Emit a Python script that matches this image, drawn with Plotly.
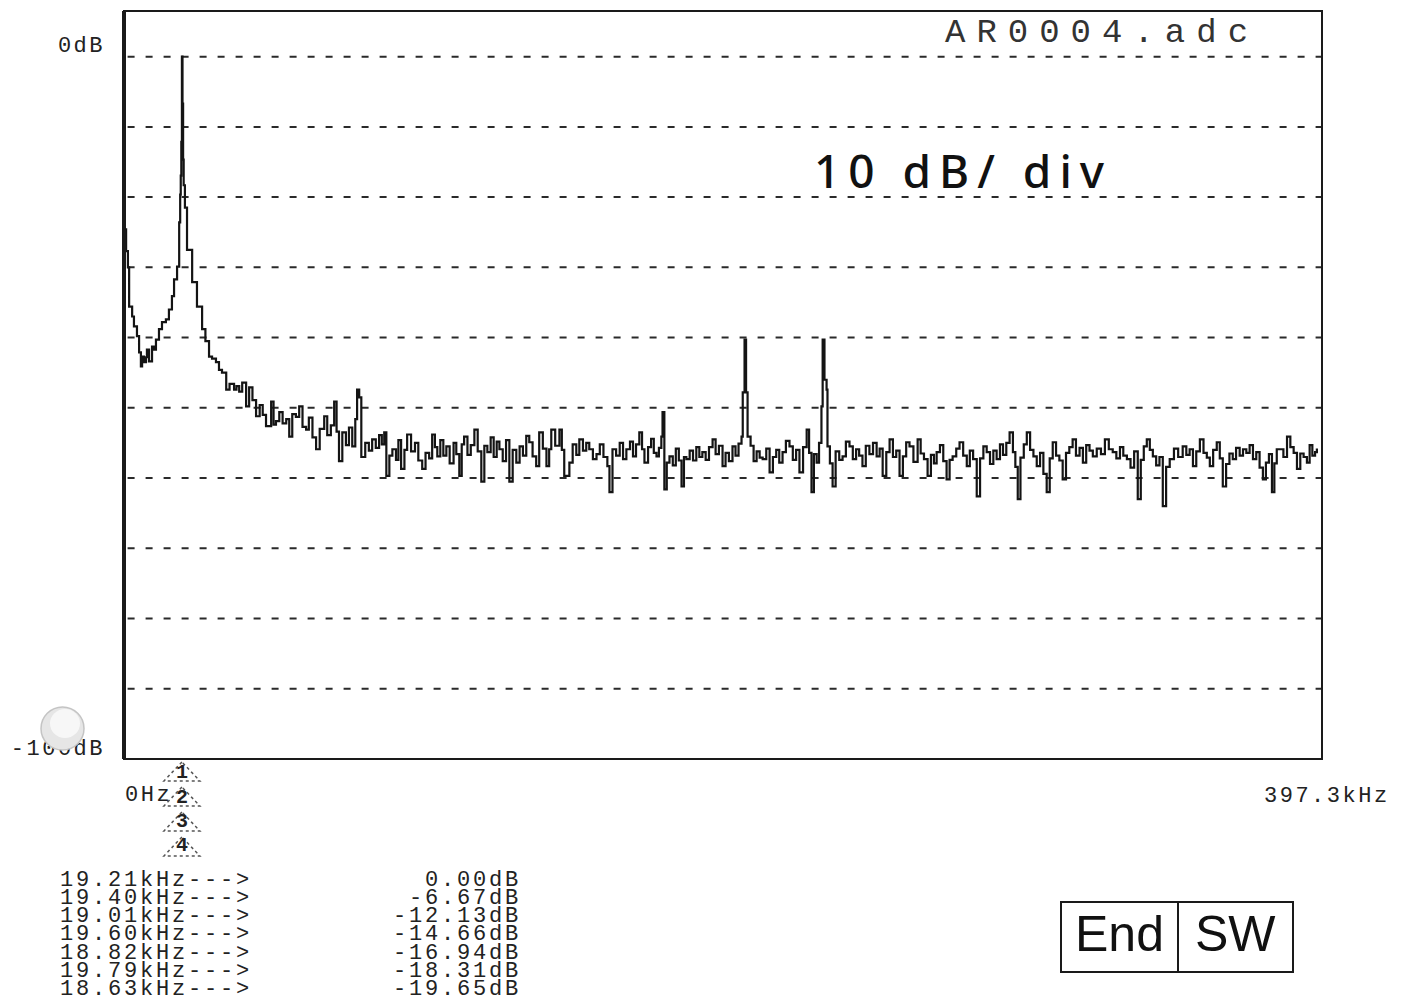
import plotly.graph_objects as go

# ---------------- data ----------------
freq_khz = [
    0.0, 0.3, 0.7, 1.3, 1.7, 2.7, 3.3, 4.3, 5.0, 5.6, 6.0, 6.6, 7.3, 7.6, 8.3, 9.3, 10.0, 10.6, 11.6, 12.6,
    13.9, 14.9, 15.9, 16.6, 17.6, 18.3, 18.63, 18.82, 19.01, 19.21, 19.40, 19.60, 19.79, 20.2, 20.9, 22.6,
    24.2, 25.9, 27.0, 28.2, 29.2, 30.5, 31.5, 32.5, 33.9, 35.0, 36.5, 37.3, 38.2, 39.2, 40.5, 41.5, 42.6,
    43.8, 45.0, 46.0, 47.1, 48.8, 49.6, 50.4, 51.5, 52.6, 53.8, 54.8, 55.8, 57.0, 58.1, 59.2, 60.4, 61.3,
    62.5, 63.7, 64.9, 66.4, 67.4, 68.6, 69.7, 70.5, 71.3, 72.4, 73.6, 74.6, 75.7, 76.7, 77.3, 78.0, 78.7,
    80.0, 81.2, 82.3, 83.5, 84.6, 85.5, 86.3, 87.0, 88.0, 89.0, 90.2, 91.0, 91.9, 93.0, 93.9, 95.2, 96.5,
    97.6, 98.9, 100.0, 101.2, 102.2, 103.1, 103.9, 104.9, 105.9, 106.9, 108.0, 109.3, 110.2, 111.2, 112.0,
    112.8, 113.9, 115.0, 116.2, 117.3, 118.5, 119.5, 120.5, 121.6, 122.6, 123.6, 124.5, 125.6, 126.7,
    127.8, 128.9, 130.1, 131.2, 132.3, 133.4, 134.4, 135.5, 136.7, 137.7, 138.9, 140.1, 141.0, 141.7,
    143.0, 144.4, 145.2, 146.0, 147.7, 148.8, 150.0, 151.0, 152.2, 153.3, 154.3, 155.5, 156.7, 157.8,
    159.0, 160.3, 161.0, 162.0, 163.2, 164.4, 165.5, 166.6, 167.8, 168.8, 169.8, 170.9, 171.8, 172.6,
    173.8, 174.8, 175.7, 176.6, 177.4, 178.2, 178.6, 179.2, 180.0, 180.9, 182.0, 183.0, 184.0, 184.9,
    185.7, 186.5, 187.6, 188.7, 189.8, 190.8, 191.8, 192.9, 194.0, 195.2, 196.2, 197.3, 198.5, 199.5,
    200.6, 201.8, 202.8, 203.8, 204.8, 205.2, 205.8, 206.3, 206.8, 207.8, 208.8, 209.8, 210.8, 211.8,
    213.0, 214.1, 215.2, 216.3, 217.3, 218.4, 219.5, 220.7, 221.8, 222.9, 224.0, 225.2, 226.4, 227.2,
    228.0, 228.8, 229.7, 230.5, 231.3, 231.7, 232.3, 233.0, 233.3, 234.1, 235.0, 236.0, 237.2, 238.3,
    239.4, 240.6, 241.7, 242.8, 243.8, 244.9, 246.0, 247.2, 248.4, 249.6, 250.6, 251.6, 252.8, 253.9,
    255.0, 256.1, 257.2, 258.3, 259.4, 260.5, 261.8, 263.2, 264.2, 265.3, 266.5, 267.6, 268.6, 269.5,
    270.6, 271.7, 272.8, 273.8, 274.8, 276.0, 277.1, 278.3, 279.5, 280.5, 281.6, 282.8, 283.9, 285.0,
    286.1, 287.2, 288.3, 289.4, 290.5, 291.5, 292.6, 293.7, 294.8, 295.6, 296.4, 297.3, 298.4, 299.4,
    300.5, 301.6, 302.7, 303.8, 304.9, 306.0, 307.0, 308.0, 309.1, 310.2, 311.3, 312.4, 313.5, 314.6,
    315.7, 316.9, 318.0, 319.1, 320.2, 321.3, 322.6, 324.0, 325.3, 326.6, 327.9, 329.1, 330.3, 331.4,
    332.6, 333.8, 335.0, 336.2, 337.2, 338.2, 339.2, 340.2, 341.2, 342.3, 343.4, 344.5, 345.6, 346.8,
    348.2, 349.6, 351.1, 352.3, 353.4, 354.5, 355.6, 356.8, 358.0, 359.1, 360.1, 361.2, 362.4, 363.4,
    364.4, 365.5, 366.6, 367.7, 368.8, 370.0, 371.1, 372.2, 373.3, 374.4, 375.5, 376.6, 377.7, 378.7,
    379.7, 380.7, 381.5, 382.3, 383.3, 384.5, 385.7, 386.8, 387.9, 389.0, 390.1, 391.2, 392.3, 393.2,
    394.1, 395.0, 395.6,
]
level_db = [
    -20.0, -24.6, -27.7, -30.0, -35.6, -37.0, -38.4, -39.8, -42.1, -44.1, -42.7, -43.5, -42.8, -41.7, -43.4, -41.3, -41.7, -40.3, -38.8, -37.8,
    -37.4, -36.0, -34.1, -31.7, -29.9, -23.6, -19.65, -16.94, -12.13, 0.0, -6.67, -14.66, -18.31, -21.5, -27.5, -32.1,
    -35.6, -38.8, -40.5, -42.7, -43.0, -43.5, -44.6, -45.0, -47.4, -46.6, -47.4, -46.9, -47.7, -46.4, -49.8, -47.1, -48.9,
    -51.2, -49.6, -51.0, -52.6, -49.1, -52.4, -51.9, -50.6, -52.2, -51.6, -54.1, -50.9, -51.3, -49.8, -52.7, -53.1, -51.4,
    -54.2, -55.9, -53.0, -51.2, -53.9, -52.5, -49.1, -53.4, -57.6, -53.5, -55.3, -52.8, -55.5, -51.6, -47.4, -48.5, -57.0,
    -55.0, -56.1, -54.5, -55.7, -53.9, -55.2, -53.5, -59.7, -56.8, -55.9, -57.4, -54.6, -58.7, -56.0, -53.8, -56.2, -55.0,
    -57.5, -58.7, -56.4, -57.2, -53.8, -55.6, -56.9, -54.6, -56.8, -55.5, -57.9, -55.0, -56.6, -59.7, -55.2,
    -54.1, -56.7, -55.3, -53.1, -56.2, -60.5, -55.4, -56.3, -54.2, -57.0, -54.8, -55.9, -57.6, -54.6,
    -60.5, -56.0, -57.8, -55.5, -56.8, -54.0, -54.9, -56.9, -58.3, -53.5, -55.8, -58.3, -55.9, -53.1,
    -55.4, -53.1, -56.0, -59.7, -57.8, -55.2, -56.7, -54.5, -56.1, -55.0, -55.9, -57.3, -56.6, -55.2,
    -57.0, -58.3, -62.0, -55.9, -56.8, -55.0, -57.3, -55.9, -54.8, -56.9, -55.2, -53.5, -55.9, -57.8,
    -55.6, -54.4, -56.4, -56.9, -55.7, -54.1, -50.6, -61.6, -57.8, -56.9, -58.2, -55.8, -57.5, -61.2,
    -57.0, -57.3, -56.1, -57.5, -55.6, -57.0, -56.3, -57.4, -55.6, -54.5, -56.6, -55.4, -58.3, -56.4,
    -57.6, -55.5, -56.8, -55.1, -54.1, -47.8, -40.3, -47.8, -54.1, -55.4, -57.6, -56.2, -57.1, -57.3,
    -55.8, -59.2, -57.0, -56.0, -57.8, -56.3, -54.7, -55.5, -57.4, -56.0, -59.2, -55.6, -53.1, -56.4,
    -62.0, -56.6, -57.8, -55.0, -49.8, -40.3, -46.0, -47.4, -55.5, -57.9, -61.2, -56.2, -57.4, -56.9,
    -54.8, -55.5, -57.3, -55.9, -56.8, -58.3, -55.4, -56.6, -55.0, -56.9, -55.8, -59.7, -56.3, -54.5,
    -57.0, -56.1, -59.7, -56.9, -54.9, -55.5, -57.7, -54.5, -56.5, -57.3, -59.7, -56.7, -57.9, -56.3,
    -55.3, -57.6, -60.2, -57.4, -56.9, -55.8, -54.9, -56.8, -58.3, -56.1, -57.3, -62.6, -57.2, -55.5,
    -56.3, -58.0, -56.1, -57.3, -55.2, -56.7, -55.0, -53.5, -56.3, -58.4, -63.0, -57.1, -55.2, -53.5,
    -56.0, -56.9, -58.3, -56.4, -59.4, -62.0, -57.2, -54.9, -56.8, -57.5, -60.2, -56.4, -55.6, -54.5,
    -56.8, -55.7, -57.8, -55.3, -56.1, -56.9, -55.8, -56.6, -54.5, -55.9, -56.3, -57.2, -55.6, -56.8,
    -57.3, -58.5, -56.2, -63.0, -57.4, -55.5, -54.5, -56.0, -56.9, -58.2, -57.0, -64.0, -58.4, -57.3,
    -55.8, -57.0, -55.5, -56.7, -55.9, -58.3, -56.2, -54.5, -56.4, -57.1, -58.3, -56.0, -54.9, -57.2,
    -61.2, -58.0, -56.5, -57.3, -55.7, -56.8, -55.9, -56.4, -55.3, -57.3, -56.3, -58.5, -60.2, -57.8,
    -56.6, -62.0, -57.9, -55.9, -55.9, -57.0, -54.1, -55.6, -56.4, -58.7, -56.5, -57.0, -57.8, -55.3,
    -56.8, -56.3, -55.8,
]

x_range_khz = [0.0, 397.3]
y_range_db = [-100.0, 6.5]
grid_levels_db = [0, -10, -20, -30, -40, -50, -60, -70, -80, -90]
y_tick_labels = ["0dB", "-100dB"]
x_start_label = "0Hz"
x_end_label = "397.3kHz"
title_text = "AR0004.adc"
note_text = "10 dB/ div"
marker_freq_khz = 19.21
marker_ids = ["1", "2", "3", "4"]
marker_freq_labels = ["19.21kHz--->", "19.40kHz--->", "19.01kHz--->", "19.60kHz--->",
                      "18.82kHz--->", "19.79kHz--->", "18.63kHz--->"]
marker_level_labels = ["0.00dB", "-6.67dB", "-12.13dB", "-14.66dB", "-16.94dB", "-18.31dB", "-19.65dB"]
button_labels = ["End", "SW"]

# ---------------- layout geometry ----------------
W, H = 1403, 1008
L, R, T, B = 124, 81, 11, 249
PW, PH = W - L - R, H - T - B


def pxx(px):
    return (px - L) / PW


def pxy(py):
    return (T + PH - py) / PH


MONO = "Liberation Mono"


def spaced(text, sp):
    return f'<span style="letter-spacing:{sp}px">{text}</span>'


fig = go.Figure()
fig.add_trace(go.Scatter(
    x=freq_khz, y=level_db, mode="lines",
    line=dict(color="#141414", width=2.2, shape="hv"),
    hoverinfo="skip", showlegend=False,
))

shapes = []
# dashed grid
for lv in grid_levels_db:
    shapes.append(dict(type="line", xref="paper", yref="y", x0=0.003, x1=1.0, y0=lv, y1=lv,
                       line=dict(color="#2a2a2a", width=2, dash="7px,11px"), layer="below"))
# frame
shapes.append(dict(type="rect", xref="paper", yref="paper", x0=0, x1=1, y0=0, y1=1,
                   line=dict(color="#1a1a1a", width=2)))
shapes.append(dict(type="line", xref="paper", yref="paper", x0=0, x1=0, y0=0, y1=1,
                   line=dict(color="#1a1a1a", width=4)))
# hole-punch artefact over -100dB label
shapes.append(dict(type="circle", xref="paper", yref="paper",
                   x0=pxx(41), x1=pxx(84), y0=pxy(750), y1=pxy(707),
                   fillcolor="#e6e6e6", line=dict(color="#c4c4c4", width=1.5), layer="above"))
shapes.append(dict(type="circle", xref="paper", yref="paper",
                   x0=pxx(50), x1=pxx(80), y0=pxy(738), y1=pxy(709),
                   fillcolor="#f7f7f7", line=dict(width=0), layer="above"))
# marker triangles
apex = [762, 787, 812, 837]
hw = 18 * (x_range_khz[1] - x_range_khz[0]) / PW
for a in apex:
    path = (f"M {marker_freq_khz},{pxy(a)} L {marker_freq_khz - hw},{pxy(a + 19)} "
            f"L {marker_freq_khz + hw},{pxy(a + 19)} Z")
    shapes.append(dict(type="path", xref="x", yref="paper", path=path,
                       line=dict(color="#555555", width=1.5, dash="dot")))
# End | SW box
shapes.append(dict(type="rect", xref="paper", yref="paper", x0=pxx(1061), x1=pxx(1293),
                   y0=pxy(972), y1=pxy(902), line=dict(color="#1a1a1a", width=2)))
shapes.append(dict(type="line", xref="paper", yref="paper", x0=pxx(1178), x1=pxx(1178),
                   y0=pxy(972), y1=pxy(902), line=dict(color="#1a1a1a", width=2)))

ann = []
ann.append(dict(text=spaced(title_text, 11), xref="paper", yref="paper", x=pxx(1102), y=pxy(33),
                xanchor="center", yanchor="middle", showarrow=False,
                font=dict(family=MONO, size=34, color="#333333")))
ann.append(dict(text=spaced(note_text, 8), xref="paper", yref="paper", x=pxx(963), y=pxy(170),
                xanchor="center", yanchor="middle", showarrow=False,
                font=dict(family="Noto Sans", size=46, color="#111111", weight=500)))
ann.append(dict(text=spaced(x_start_label, 2.5), xref="paper", yref="paper", x=pxx(123), y=pxy(795),
                xanchor="left", yanchor="middle", showarrow=False,
                font=dict(family=MONO, size=22, color="#222222")))
ann.append(dict(text=spaced(x_end_label, 2.5), xref="paper", yref="paper", x=pxx(1262), y=pxy(796),
                xanchor="left", yanchor="middle", showarrow=False,
                font=dict(family=MONO, size=22, color="#222222")))
num_y = [772, 797, 821, 845]
for mid, ny in zip(marker_ids, num_y):
    ann.append(dict(text=mid, xref="x", yref="paper", x=marker_freq_khz, y=pxy(ny),
                    xanchor="center", yanchor="middle", showarrow=False,
                    font=dict(family=MONO, size=20, color="#222222", weight=700)))
for i, (fl, ll) in enumerate(zip(marker_freq_labels, marker_level_labels)):
    yy = 880 + i * 18.3
    ann.append(dict(text=spaced(fl, 2.8), xref="paper", yref="paper", x=pxx(58), y=pxy(yy),
                    xanchor="left", yanchor="middle", showarrow=False,
                    font=dict(family=MONO, size=22, color="#222222")))
    ann.append(dict(text=spaced(ll, 2.8), xref="paper", yref="paper", x=pxx(523), y=pxy(yy),
                    xanchor="right", yanchor="middle", showarrow=False,
                    font=dict(family=MONO, size=22, color="#222222")))
ann.append(dict(text=button_labels[0], xref="paper", yref="paper", x=pxx(1119), y=pxy(934),
                xanchor="center", yanchor="middle", showarrow=False,
                font=dict(family="Liberation Sans", size=50, color="#111111")))
ann.append(dict(text=button_labels[1], xref="paper", yref="paper", x=pxx(1235), y=pxy(934),
                xanchor="center", yanchor="middle", showarrow=False,
                font=dict(family="Liberation Sans", size=50, color="#111111")))

fig.update_layout(
    width=W, height=H, margin=dict(l=L, r=R, t=T, b=B, pad=0),
    paper_bgcolor="white", plot_bgcolor="white", showlegend=False,
    shapes=shapes, annotations=ann,
)
fig.update_xaxes(range=x_range_khz, showgrid=False, zeroline=False, showticklabels=False,
                 ticks="", showline=False, fixedrange=True)
fig.update_yaxes(range=y_range_db, showgrid=False, zeroline=False, showline=False, ticks="",
                 tickvals=[0 + 12 / 7.02, -100 + 12 / 7.02],
                 ticktext=[spaced(t, 2.5) for t in y_tick_labels],
                 tickfont=dict(family=MONO, size=22, color="#222222"),
                 ticklabelstandoff=18, fixedrange=True)

fig.write_html("out.html")
